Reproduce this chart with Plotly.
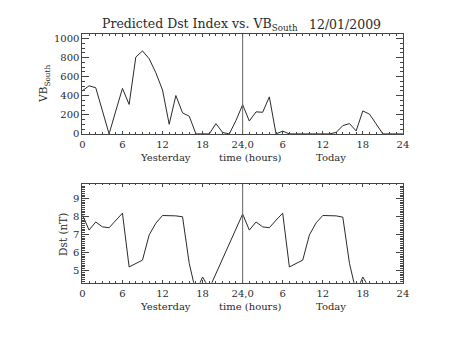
import plotly.graph_objects as go

# ---- data (hours since start of "yesterday") ----
vb_hours = list(range(0, 49))
vb_south = [453, 504, 484, 250, 0, 240, 477, 309, 805, 870, 788, 641, 460, 101, 402, 220, 186, 0, 0, 0,
            108, 15, 0, 140, 306, 135, 231, 227, 388, 0, 29, 0, 0, 0, 0, 0, 0, 0, 15, 87,
            108, 32, 241, 207, 104, 0, 0, 0, 0]

dst_hours = list(range(0, 44))
dst_vals = [8.10, 7.25, 7.70, 7.43, 7.38, 7.80, 8.19, 5.20, 5.40, 5.58, 6.98, 7.63, 8.06, 8.06, 8.04, 7.99,
            5.40, 3.80, 4.64, 4.00, 4.82, 5.64, 6.46, 7.28,
            8.14, 7.25, 7.70, 7.43, 7.38, 7.80, 8.19, 5.20, 5.40, 5.58, 6.98, 7.65, 8.06, 8.06, 8.04, 7.97,
            5.40, 3.80, 4.64, 4.00]

x_tickvals = [0, 6, 12, 18, 24, 30, 36, 42, 48]
x_ticktext = ["0", "6", "12", "18", "24,0", "6", "12", "18", "24"]
vb_tickvals = [0, 200, 400, 600, 800, 1000]
dst_tickvals = [5, 6, 7, 8, 9]
day_labels = ["Yesterday", "time (hours)", "Today"]
day_label_pos = [12.4, 25.2, 37.2]
split_hour = 24

W, H = 453, 340
FONT = "DejaVu Serif"
INK = "#2a2a2a"
AX = "#444444"


def px_x(p):
    return p / W


def px_y(p):
    return 1 - p / H


fig = go.Figure()
fig.add_trace(go.Scatter(x=vb_hours, y=vb_south, mode="lines",
                         line=dict(color=INK, width=1), xaxis="x", yaxis="y", showlegend=False))
fig.add_trace(go.Scatter(x=dst_hours, y=dst_vals, mode="lines",
                         line=dict(color=INK, width=1), xaxis="x2", yaxis="y2", showlegend=False))

xdom = [px_x(81), px_x(408)]
common_x = dict(range=[0, 48], tickmode="array", tickvals=x_tickvals, ticktext=x_ticktext,
                ticks="inside", ticklen=3, tickcolor=AX, showline=True, linecolor=AX, linewidth=1,
                mirror="ticks", showgrid=False, zeroline=False, domain=xdom, ticklabelstandoff=1,
                tickfont=dict(family=FONT, size=10, color=INK),
                minor=dict(tickmode="linear", tick0=0, dtick=1, ticks="inside", ticklen=1.5, tickcolor=AX))

fig.update_layout(
    width=W, height=H, margin=dict(l=0, r=0, t=0, b=0),
    paper_bgcolor="white", plot_bgcolor="white",
    xaxis=dict(common_x, anchor="y"),
    yaxis=dict(domain=[px_y(135.7), px_y(34)], range=[0, 1044], tickmode="array", tickvals=vb_tickvals,
               ticks="inside", ticklen=6.5, tickcolor=AX, showline=True, linecolor=AX, linewidth=1,
               mirror="ticks", showgrid=False, zeroline=False,
               tickfont=dict(family=FONT, size=10, color=INK),
               minor=dict(tickmode="linear", tick0=0, dtick=50, ticks="inside", ticklen=3, tickcolor=AX)),
    xaxis2=dict(common_x, anchor="y2"),
    yaxis2=dict(domain=[px_y(287.7), px_y(186.7)], range=[4.32, 9.82], tickmode="array", tickvals=dst_tickvals,
                ticks="inside", ticklen=6.5, tickcolor=AX, showline=True, linecolor=AX, linewidth=1,
                mirror="ticks", showgrid=False, zeroline=False,
                tickfont=dict(family=FONT, size=10, color=INK),
                minor=dict(tickmode="linear", tick0=0, dtick=0.1, ticks="inside", ticklen=3, tickcolor=AX)),
)

# vertical divider at 24h in both panels
for xr, yr in (("x", "y domain"), ("x2", "y2 domain")):
    fig.add_shape(type="line", xref=xr, yref=yr, x0=split_hour, x1=split_hour, y0=0, y1=1,
                  line=dict(color="#666666", width=1))

ann_font = dict(family=FONT, size=10, color=INK)
for xr, ypx in (("x", 159.5), ("x2", 311.5)):
    for lbl, pos in zip(day_labels, day_label_pos):
        fig.add_annotation(text=lbl, xref=xr, x=pos, yref="paper", y=px_y(ypx), showarrow=False,
                           xanchor="center", yanchor="middle", font=ann_font)

# y axis titles
fig.add_annotation(text="VB<sub>South</sub>", xref="paper", x=px_x(42.5), yref="paper", y=px_y(85),
                   textangle=-90, showarrow=False, xanchor="center", yanchor="middle",
                   font=dict(family=FONT, size=10.5, color=INK))
fig.add_annotation(text="Dst (nT)", xref="paper", x=px_x(61), yref="paper", y=px_y(238),
                   textangle=-90, showarrow=False, xanchor="center", yanchor="middle",
                   font=dict(family=FONT, size=10.5, color=INK))

# title
fig.add_annotation(text="Predicted Dst Index vs. VB<sub>South</sub>", xref="paper", x=px_x(99), yref="paper",
                   y=px_y(24), showarrow=False, xanchor="left", yanchor="middle",
                   font=dict(family=FONT, size=12.5, color=INK))
fig.add_annotation(text="12/01/2009", xref="paper", x=px_x(310), yref="paper",
                   y=px_y(24), showarrow=False, xanchor="left", yanchor="middle",
                   font=dict(family=FONT, size=12.5, color=INK))

fig.write_html("out.html")
